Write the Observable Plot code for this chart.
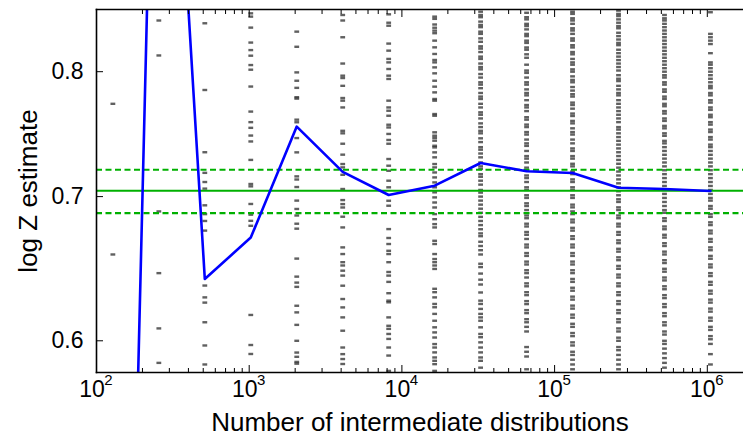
<!DOCTYPE html>
<html>
<head>
<meta charset="utf-8">
<script src="https://cdn.jsdelivr.net/npm/d3@7"></script>
<script src="https://cdn.jsdelivr.net/npm/@observablehq/plot@0.6"></script>
<style>
  html, body { margin: 0; padding: 0; background: #fff; }
  #chart { width: 743px; height: 442px; }
</style>
</head>
<body>
<div id="chart"></div>
<script>
// ---- data ----
const nSteps = [128, 256, 512, 1024, 2048, 4096, 8192, 16384, 32768, 65536, 131072, 262144, 524288, 1048576];
const meanLogZ = [0.19, 1.44, 0.641, 0.670, 0.7544, 0.7188, 0.7012, 0.7082, 0.7256, 0.7192, 0.7179, 0.7067, 0.7057, 0.7042];
const trueLogZ = [0.7044];
const trueBand = [0.6878, 0.7204];

const s128 = [0.773, 0.658];
const s256 = [0.845, 0.814, 0.689, 0.645, 0.608, 0.586];
const s512 = [0.8425, 0.7845, 0.734, 0.718, 0.711, 0.706, 0.6935, 0.687, 0.682, 0.675, 0.6365, 0.6285, 0.625, 0.612, 0.597, 0.585];
const s1024 = [0.8515, 0.8485, 0.8386, 0.8253, 0.8187, 0.8138, 0.8057, 0.8017, 0.7874, 0.7666, 0.758, 0.7534, 0.7472, 0.7425, 0.728, 0.7095, 0.7077, 0.6945, 0.6866, 0.6821, 0.6785, 0.6168, 0.5973, 0.5916];
const s2048 = [0.835, 0.8216, 0.7994, 0.7923, 0.7863, 0.7785, 0.7773, 0.76, 0.7579, 0.7452, 0.7339, 0.7153, 0.7129, 0.7072, 0.697, 0.6908, 0.686, 0.68, 0.6764, 0.6551, 0.6426, 0.6385, 0.6356, 0.6229, 0.6185, 0.6103, 0.6, 0.5925, 0.5898, 0.5866, 0.5855];
const s4096 = [0.85, 0.845, 0.83, 0.807, 0.7966, 0.7946, 0.788, 0.7778, 0.7756, 0.77, 0.751, 0.749, 0.7407, 0.7321, 0.7248, 0.7222, 0.7165, 0.7057, 0.6974, 0.6944, 0.6919, 0.6851, 0.6773, 0.663, 0.6583, 0.6526, 0.6503, 0.6467, 0.6433, 0.6364, 0.6274, 0.6218, 0.6152, 0.6065, 0.5957, 0.5915, 0.5884, 0.5853];
const s8192 = [0.8506, 0.843, 0.8403, 0.8244, 0.8182, 0.811, 0.808, 0.8023, 0.7966, 0.7938, 0.7756, 0.77, 0.7673, 0.7632, 0.7559, 0.7537, 0.7485, 0.7437, 0.7407, 0.7287, 0.7235, 0.7196, 0.712, 0.707, 0.6969, 0.6932, 0.6761, 0.6697, 0.6654, 0.6606, 0.6583, 0.6526, 0.6458, 0.6433, 0.639, 0.6313, 0.6263, 0.6252, 0.6152, 0.6097, 0.6077, 0.6044, 0.6012, 0.5957, 0.5906, 0.581];
const s16384 = [0.8485, 0.8465, 0.8414, 0.8385, 0.8359, 0.8336, 0.827, 0.8211, 0.8153, 0.8101, 0.808, 0.8037, 0.7986, 0.7923, 0.7873, 0.7825, 0.777, 0.7756, 0.7646, 0.7632, 0.7498, 0.7471, 0.7453, 0.7431, 0.7391, 0.7378, 0.7339, 0.73, 0.7248, 0.7222, 0.7183, 0.7145, 0.7107, 0.707, 0.7032, 0.6994, 0.6956, 0.6919, 0.687, 0.6833, 0.6797, 0.6773, 0.6677, 0.6654, 0.6583, 0.6548, 0.6526, 0.6503, 0.6479, 0.6343, 0.632, 0.6285, 0.6241, 0.6219, 0.6175, 0.613, 0.6087, 0.6054, 0.6021, 0.5979, 0.5957, 0.5926, 0.5894, 0.5873, 0.5852, 0.581];
const s32768 = [0.853, 0.850, 0.848, 0.844, 0.841, 0.839, 0.835, 0.833, 0.829, 0.826, 0.822, 0.820, 0.817, 0.813, 0.811, 0.807, 0.804, 0.802, 0.798, 0.795, 0.791, 0.789, 0.786, 0.782, 0.779, 0.777, 0.773, 0.770, 0.766, 0.764, 0.761, 0.757, 0.754, 0.751, 0.749, 0.745, 0.742, 0.738, 0.736, 0.733, 0.730, 0.726, 0.723, 0.721, 0.717, 0.715, 0.712, 0.709, 0.705, 0.703, 0.700, 0.697, 0.694, 0.691, 0.688, 0.685, 0.682, 0.679, 0.676, 0.673, 0.671, 0.667, 0.664, 0.661, 0.658, 0.6515, 0.6492, 0.6447, 0.6405, 0.6372, 0.6318, 0.6263, 0.6241, 0.6208, 0.6175, 0.6152, 0.613, 0.6087, 0.6044, 0.6023, 0.599, 0.5957, 0.5926, 0.5894, 0.5873, 0.583];
const s65536 = [0.852, 0.848, 0.846, 0.842, 0.840, 0.837, 0.833, 0.831, 0.827, 0.825, 0.821, 0.819, 0.815, 0.812, 0.806, 0.801, 0.799, 0.795, 0.791, 0.789, 0.785, 0.782, 0.780, 0.776, 0.772, 0.770, 0.767, 0.762, 0.760, 0.756, 0.754, 0.750, 0.748, 0.744, 0.741, 0.739, 0.735, 0.731, 0.729, 0.726, 0.722, 0.720, 0.716, 0.714, 0.711, 0.707, 0.705, 0.701, 0.699, 0.695, 0.693, 0.690, 0.686, 0.684, 0.680, 0.678, 0.674, 0.672, 0.669, 0.665, 0.663, 0.659, 0.657, 0.653, 0.651, 0.647, 0.645, 0.642, 0.638, 0.636, 0.632, 0.630, 0.626, 0.624, 0.620, 0.618, 0.614, 0.612, 0.609, 0.606, 0.596, 0.593, 0.590, 0.582];
const s131072 = [0.853, 0.851, 0.847, 0.845, 0.842, 0.838, 0.836, 0.833, 0.829, 0.827, 0.823, 0.821, 0.817, 0.815, 0.811, 0.808, 0.806, 0.802, 0.800, 0.796, 0.793, 0.791, 0.787, 0.784, 0.781, 0.779, 0.774, 0.772, 0.769, 0.765, 0.763, 0.759, 0.757, 0.753, 0.750, 0.748, 0.744, 0.741, 0.737, 0.735, 0.731, 0.729, 0.725, 0.723, 0.719, 0.717, 0.713, 0.711, 0.707, 0.705, 0.701, 0.699, 0.694, 0.692, 0.689, 0.687, 0.683, 0.681, 0.677, 0.675, 0.671, 0.669, 0.665, 0.663, 0.659, 0.657, 0.653, 0.651, 0.647, 0.645, 0.641, 0.639, 0.635, 0.633, 0.629, 0.627, 0.623, 0.621, 0.617, 0.615, 0.611, 0.609, 0.605, 0.603, 0.599, 0.597, 0.593, 0.591, 0.588, 0.585, 0.582];
const s262144 = [0.854, 0.851, 0.849, 0.846, 0.843, 0.840, 0.838, 0.834, 0.831, 0.828, 0.825, 0.823, 0.819, 0.816, 0.813, 0.810, 0.807, 0.804, 0.801, 0.797, 0.794, 0.792, 0.788, 0.785, 0.782, 0.780, 0.776, 0.773, 0.770, 0.767, 0.764, 0.761, 0.758, 0.754, 0.752, 0.749, 0.746, 0.743, 0.740, 0.737, 0.734, 0.731, 0.728, 0.725, 0.722, 0.719, 0.716, 0.713, 0.710, 0.707, 0.704, 0.701, 0.698, 0.696, 0.692, 0.690, 0.686, 0.684, 0.680, 0.678, 0.674, 0.672, 0.668, 0.666, 0.662, 0.660, 0.656, 0.654, 0.650, 0.648, 0.644, 0.642, 0.638, 0.636, 0.632, 0.630, 0.626, 0.624, 0.620, 0.618, 0.614, 0.612, 0.608, 0.606, 0.602, 0.600, 0.596, 0.594, 0.591, 0.588, 0.585, 0.582];
const s524288 = [0.850, 0.847, 0.845, 0.842, 0.839, 0.836, 0.833, 0.830, 0.827, 0.824, 0.821, 0.818, 0.815, 0.812, 0.809, 0.806, 0.803, 0.800, 0.797, 0.795, 0.791, 0.789, 0.785, 0.783, 0.779, 0.777, 0.773, 0.771, 0.767, 0.765, 0.761, 0.759, 0.755, 0.753, 0.749, 0.747, 0.743, 0.741, 0.738, 0.735, 0.732, 0.729, 0.726, 0.723, 0.720, 0.717, 0.714, 0.711, 0.708, 0.705, 0.702, 0.699, 0.696, 0.693, 0.690, 0.688, 0.684, 0.682, 0.678, 0.676, 0.672, 0.670, 0.666, 0.664, 0.660, 0.658, 0.654, 0.652, 0.648, 0.646, 0.642, 0.640, 0.636, 0.634, 0.630, 0.628, 0.624, 0.622, 0.618, 0.616, 0.612, 0.610, 0.606, 0.604, 0.600, 0.598, 0.595, 0.592, 0.589, 0.586, 0.583];
const s1048576 = [0.8525, 0.833, 0.830, 0.827, 0.824, 0.816, 0.808, 0.806, 0.803, 0.800, 0.797, 0.794, 0.791, 0.788, 0.786, 0.782, 0.780, 0.776, 0.774, 0.770, 0.768, 0.764, 0.762, 0.758, 0.756, 0.752, 0.750, 0.746, 0.744, 0.740, 0.738, 0.735, 0.732, 0.729, 0.726, 0.723, 0.720, 0.717, 0.714, 0.711, 0.708, 0.705, 0.702, 0.699, 0.697, 0.693, 0.691, 0.687, 0.685, 0.681, 0.679, 0.675, 0.673, 0.669, 0.667, 0.663, 0.661, 0.657, 0.655, 0.651, 0.649, 0.645, 0.643, 0.639, 0.637, 0.633, 0.631, 0.627, 0.625, 0.621, 0.619, 0.615, 0.613, 0.609, 0.607, 0.603, 0.601, 0.598, 0.5915, 0.585];

const yTicks = [0.6, 0.7, 0.8];
const xMajor = [1e2, 1e3, 1e4, 1e5, 1e6];
const xExponents = ["2", "3", "4", "5", "6"];
const xMinor = [200,300,400,500,600,700,800,900, 2e3,3e3,4e3,5e3,6e3,7e3,8e3,9e3, 2e4,3e4,4e4,5e4,6e4,7e4,8e4,9e4, 2e5,3e5,4e5,5e5,6e5,7e5,8e5,9e5];
const xLabel = "Number of intermediate distributions";
const yLabel = "log Z estimate";

// ---- build tables ----
const sampleCols = [s128, s256, s512, s1024, s2048, s4096, s8192, s16384, s32768, s65536, s131072, s262144, s524288, s1048576];
const samples = sampleCols.flatMap((col, i) => col.map(v => ({n: nSteps[i], v})));
const means = nSteps.map((n, i) => ({n, v: meanLogZ[i]}));

const dash = {
  draw(ctx) {
    ctx.moveTo(-2.4, -1.2); ctx.lineTo(2.4, -1.2); ctx.lineTo(2.4, 1.2); ctx.lineTo(-2.4, 1.2); ctx.closePath();
  }
};
const green = "#00b000";
const font = 23;
const titleFont = 26;

const chart = Plot.plot({
  width: 743,
  height: 442,
  marginLeft: 96,
  marginRight: 0,
  marginTop: 9,
  marginBottom: 70,
  x: {type: "log", domain: [100, 1.726e6]},
  y: {type: "log", domain: [0.58, 0.855]},
  style: {fontFamily: "'Liberation Sans', Arial, Helvetica, sans-serif", background: "#fff", color: "#000"},
  marks: [
    Plot.dot(samples, {x: "n", y: "v", symbol: dash, r: 3, fill: "#222", fillOpacity: 0.72, stroke: null, clip: true}),
    Plot.ruleY(trueBand, {y: d => d, stroke: green, strokeWidth: 2.2, strokeDasharray: "6,3.5"}),
    Plot.ruleY(trueLogZ, {y: d => d, stroke: green, strokeWidth: 2.2}),
    Plot.line(means, {x: "n", y: "v", stroke: "#0000ff", strokeWidth: 2.6, clip: true}),
    Plot.axisY({anchor: "left", ticks: yTicks, tickSize: -7, tickFormat: () => "", label: null}),
    Plot.axisX({anchor: "bottom", ticks: xMajor, tickSize: -7, tickFormat: () => "", label: null}),
    Plot.axisX({anchor: "bottom", ticks: xMinor, tickSize: -4, tickFormat: () => "", label: null}),
    Plot.axisX({anchor: "top", ticks: xMajor, tickSize: -7, tickFormat: () => "", label: null}),
    Plot.axisX({anchor: "top", ticks: xMinor, tickSize: -4, tickFormat: () => "", label: null}),
    Plot.text(yTicks, {y: d => d, frameAnchor: "left", text: d => d.toFixed(1), textAnchor: "end", lineAnchor: "middle", dx: -13, fontSize: font}),
    Plot.text(xMajor, {x: d => d, frameAnchor: "bottom", text: () => "10", textAnchor: "middle", lineAnchor: "middle", dx: -4.5, dy: 17, fontSize: font}),
    Plot.text(xMajor, {x: d => d, frameAnchor: "bottom", text: (d, i) => xExponents[i], textAnchor: "middle", lineAnchor: "middle", dx: 12, dy: 8, fontSize: 15}),
    Plot.text([xLabel], {frameAnchor: "bottom", textAnchor: "middle", lineAnchor: "middle", dy: 50, fontSize: titleFont}),
    Plot.text([yLabel], {frameAnchor: "left", textAnchor: "middle", lineAnchor: "middle", dx: -68, rotate: -90, fontSize: titleFont}),
    Plot.frame({anchor: "left", strokeWidth: 1.6}),
    Plot.frame({anchor: "bottom", strokeWidth: 1.6}),
    Plot.frame({anchor: "top", strokeWidth: 1.6})
  ]
});
document.getElementById("chart").append(chart);
</script>
</body>
</html>
